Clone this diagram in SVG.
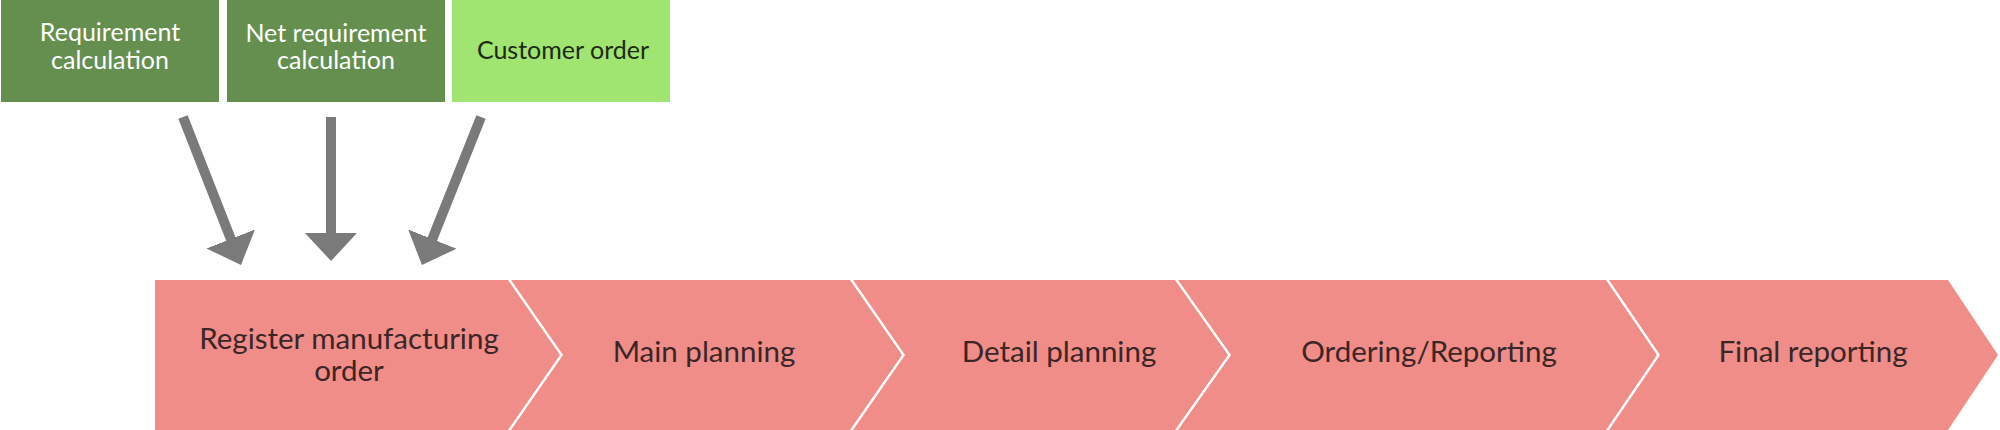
<svg xmlns="http://www.w3.org/2000/svg" width="2000" height="430" viewBox="0 0 2000 430">
<style>
.src{fill:#658f4f}
.src2{fill:#a0e571}
.step{fill:#f08d89}
.t{font-family:Lato,"Open Sans",sans-serif;text-anchor:middle}
.tw{fill:#ffffff;font-size:25px}
.td{fill:#1e2a14;font-size:25px}
.ts{fill:#3a2627;font-size:29.5px}
.conn{stroke:#7a7a7a;stroke-width:10;fill:none}
</style>
<defs>
<marker id="ah" markerUnits="userSpaceOnUse" markerWidth="28" markerHeight="52" viewBox="0 0 28 52" refX="2" refY="26" orient="auto">
<path d="M0,0 L28,26 L0,52 Z" fill="#7a7a7a"/>
</marker>
</defs>
<rect width="2000" height="430" fill="#ffffff"/>
<g id="n-req">
<rect class="src" x="1" y="0" width="218" height="102"/>
<text class="t tw" x="110" y="41">Requirement</text>
<text class="t tw" x="110" y="69">calculation</text>
</g>
<g id="n-net">
<rect class="src" x="227" y="0" width="218" height="102"/>
<text class="t tw" x="336" y="42">Net requirement</text>
<text class="t tw" x="336" y="69">calculation</text>
</g>
<g id="n-cust">
<rect class="src2" x="452" y="0" width="218" height="102"/>
<text class="t td" x="563" y="59">Customer order</text>
</g>
<g id="n-register">
<path class="step" d="M155,280 H508 L560,355 L508,430 H155 Z"/>
<text class="t ts" x="349" y="349">Register manufacturing</text>
<text class="t ts" x="349" y="381">order</text>
</g>
<g id="n-main">
<path class="step" d="M511,280 H850 L902,355 L850,430 H511 L563,355 Z"/>
<text class="t ts" x="704" y="362">Main planning</text>
</g>
<g id="n-detail">
<path class="step" d="M853,280 H1175 L1228,355 L1175,430 H853 L905,355 Z"/>
<text class="t ts" x="1059" y="362">Detail planning</text>
</g>
<g id="n-order">
<path class="step" d="M1178,280 H1606 L1657,355 L1606,430 H1178 L1231,355 Z"/>
<text class="t ts" x="1429" y="362">Ordering/Reporting</text>
</g>
<g id="n-final">
<path class="step" d="M1609,280 H1948 L1998,355 L1948,430 H1609 L1660,355 Z"/>
<text class="t ts" x="1813" y="362">Final reporting</text>
</g>
<g id="connectors">
<line class="conn" x1="183" y1="117" x2="231.5" y2="240.8" marker-end="url(#ah)"/>
<line class="conn" x1="331" y1="117" x2="331" y2="235" marker-end="url(#ah)"/>
<line class="conn" x1="481" y1="117" x2="431.6" y2="240.9" marker-end="url(#ah)"/>
</g>
</svg>
